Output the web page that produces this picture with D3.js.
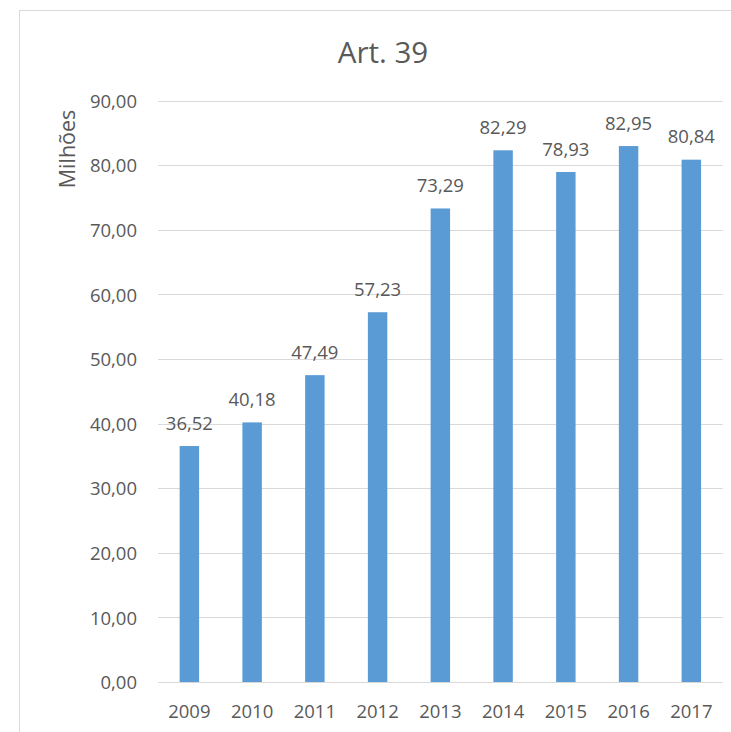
<!DOCTYPE html>
<html>
<head>
<meta charset="utf-8">
<script src="https://cdn.jsdelivr.net/npm/d3@7"></script>
<style>
  html, body { margin: 0; padding: 0; background: #fff; }
  svg { display: block; }
  text { font-family: "Open Sans", sans-serif; fill: #595959; }
</style>
</head>
<body>
<script>
const title = "Art. 39";
const yAxisTitle = "Milhões";
const years = ["2009","2010","2011","2012","2013","2014","2015","2016","2017"];
const values = [36.52, 40.18, 47.49, 57.23, 73.29, 82.29, 78.93, 82.95, 80.84];
const yTicks = [0,10,20,30,40,50,60,70,80,90];

(function () {
const W = 731, H = 732;
const FONT = "'Open Sans', sans-serif";
const FS = 18.5;
const svg = d3.select("body").append("svg").attr("width", W).attr("height", H);

// chart border
svg.append("rect").attr("x", 19.5).attr("y", 10.5).attr("width", 740).attr("height", 740)
  .attr("fill", "#fff").attr("stroke", "#d9d9d9").attr("stroke-width", 1);

const pLeft = 158, pRight = 722.7, pTop = 100.5, pBottom = 682;
const x = d3.scaleBand().domain(years).range([pLeft, pRight]).paddingInner(0.69).paddingOuter(0.345);
const y = d3.scaleLinear().domain([0, 90]).range([pBottom, pTop]);

const fmt = v => d3.format(".2f")(v).replace(".", ",");

// gridlines
svg.append("g").selectAll("line").data(yTicks).join("line")
  .attr("x1", pLeft).attr("x2", pRight)
  .attr("y1", d => Math.round(y(d)) + 0.5).attr("y2", d => Math.round(y(d)) + 0.5)
  .attr("stroke", "#d9d9d9").attr("stroke-width", 1);

// y axis labels
const yAxis = d3.axisLeft(y).tickValues(yTicks).tickFormat(fmt).tickSize(0).tickPadding(0);
const gy = svg.append("g").attr("transform", `translate(137,0)`).call(yAxis);
gy.select(".domain").remove();
gy.selectAll("text").attr("font-size", FS).attr("fill", "#595959").attr("dy", "0.36em")
  .style("font-family", FONT);

// bars
svg.append("g").selectAll("rect").data(years).join("rect")
  .attr("x", d => x(d)).attr("width", x.bandwidth())
  .attr("y", (d, i) => y(values[i])).attr("height", (d, i) => y(0) - y(values[i]))
  .attr("fill", "#5b9bd5");

// data labels
svg.append("g").selectAll("text").data(years).join("text")
  .attr("x", d => x(d) + x.bandwidth() / 2)
  .attr("y", (d, i) => y(values[i]) - 16.5)
  .attr("text-anchor", "middle").attr("font-size", FS)
  .text((d, i) => fmt(values[i]));

// x axis labels
const xAxis = d3.axisBottom(x).tickSize(0).tickPadding(0);
const gx = svg.append("g").attr("transform", `translate(0,${pBottom})`).call(xAxis);
gx.select(".domain").remove();
gx.selectAll("text").attr("font-size", FS).attr("fill", "#595959").attr("dy", null).attr("y", 36.3)
  .style("font-family", FONT);

// title
svg.append("text").attr("x", 383).attr("y", 63).attr("text-anchor", "middle")
  .attr("font-size", 29.5).text(title);

// y axis title
svg.append("text").attr("transform", "translate(74.5,149) rotate(-90)")
  .attr("text-anchor", "middle").attr("font-size", 21.5).text(yAxisTitle);
})();
</script>
</body>
</html>
